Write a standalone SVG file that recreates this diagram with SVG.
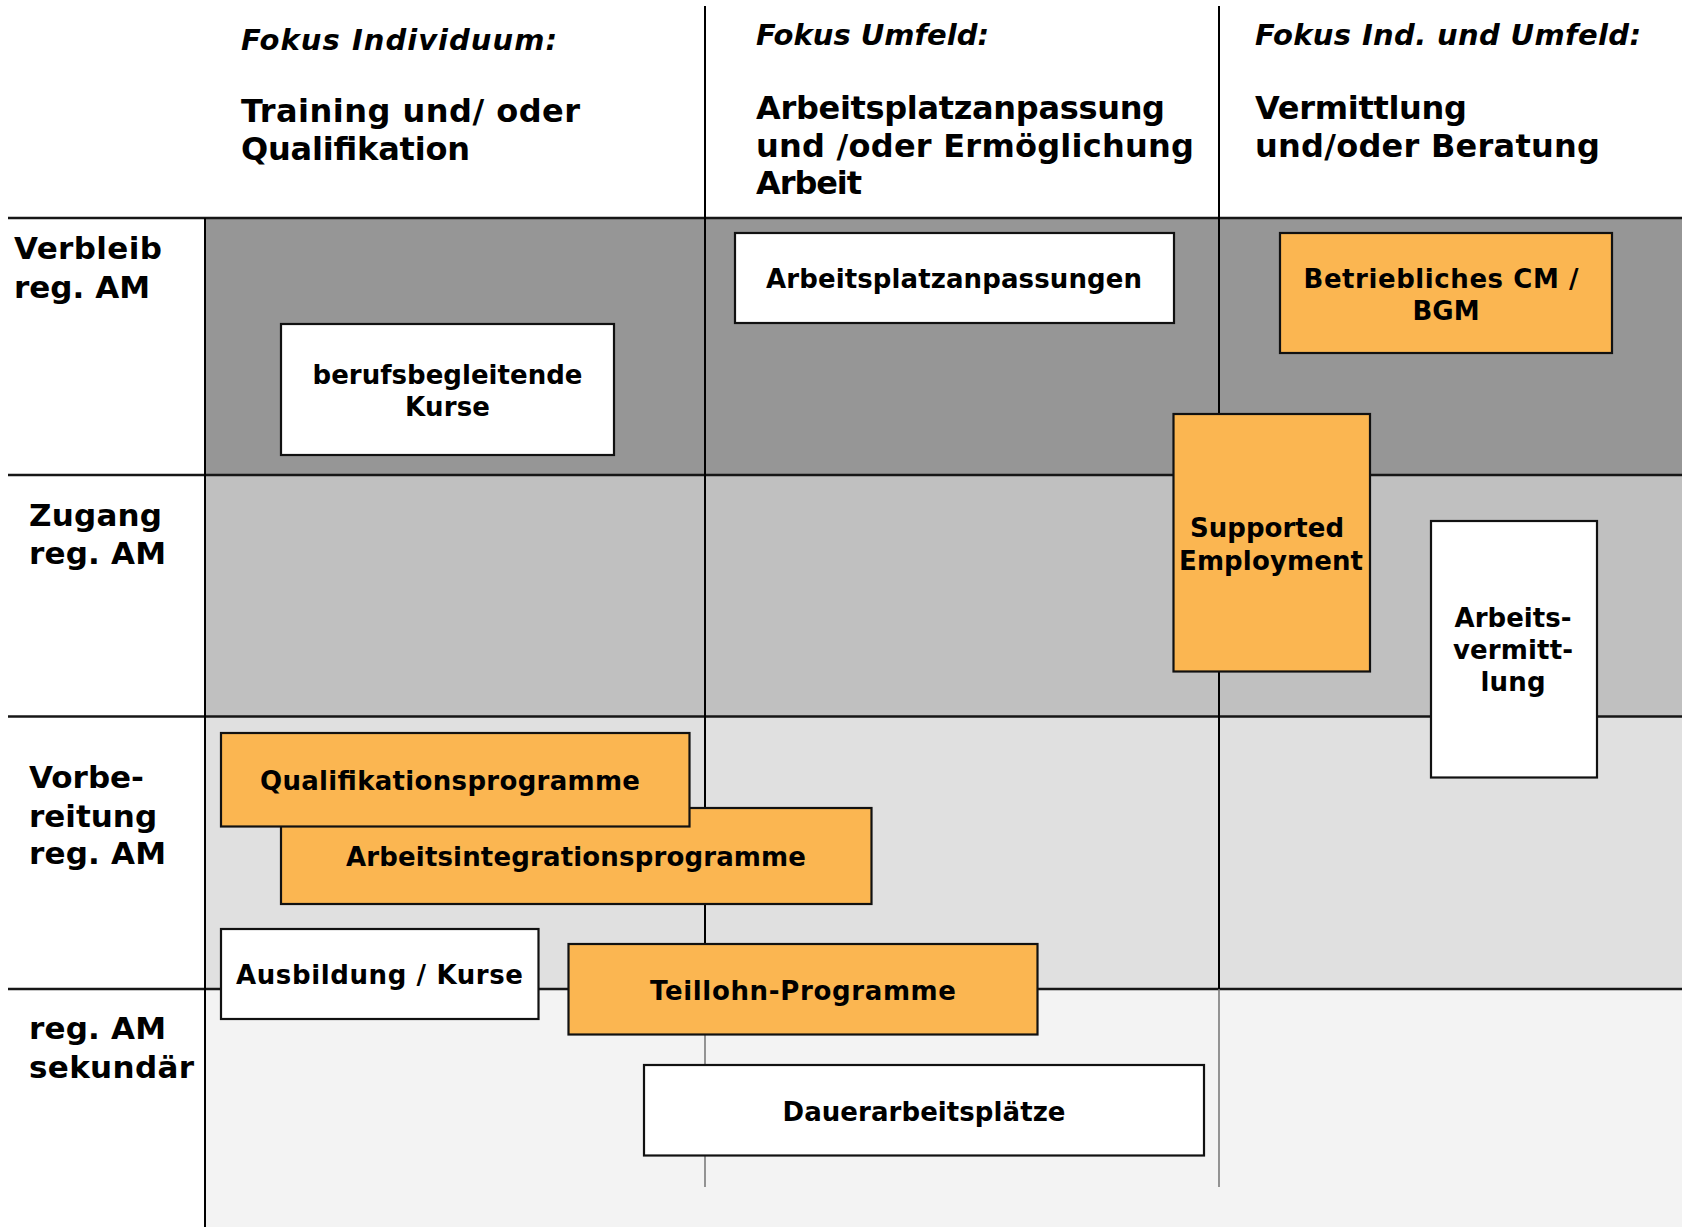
<svg xmlns="http://www.w3.org/2000/svg" width="1682" height="1227" viewBox="0 0 1682 1227">
<style>
text{font-family:"DejaVu Sans","Verdana",sans-serif;font-weight:bold;fill:#000}
.hd{font-size:32px}
.it{font-size:29px;font-style:italic}
.rl{font-size:31px}
.bx{font-size:26px;text-anchor:middle}
.box{stroke:#111;stroke-width:2.2}
.w{fill:#fff}
.o{fill:#FBB651}
.gl{stroke:#161616;stroke-width:2.5;fill:none}
.vl{stroke:#000;stroke-width:2;fill:none}
.vg{stroke:#7a7a7a;stroke-width:1.6;fill:none}
</style>
<rect x="0" y="0" width="1682" height="1227" fill="#fff"/>
<g id="bands">
<rect x="205" y="218" width="1477" height="257" fill="#969696"/>
<rect x="205" y="475" width="1477" height="241.5" fill="#c0c0c0"/>
<rect x="205" y="716.5" width="1477" height="272.5" fill="#e0e0e0"/>
<rect x="205" y="989" width="1477" height="238" fill="#f3f3f3"/>
</g>
<g id="connectors">
<line class="gl" x1="8" y1="218" x2="1682" y2="218"/>
<line class="gl" x1="8" y1="475" x2="1682" y2="475"/>
<line class="gl" x1="8" y1="716.5" x2="1682" y2="716.5"/>
<line class="gl" x1="8" y1="989" x2="1682" y2="989"/>
<line class="vl" x1="205" y1="218" x2="205" y2="1227"/>
<line class="vl" x1="705" y1="6" x2="705" y2="989"/>
<line class="vg" x1="705" y1="989" x2="705" y2="1187"/>
<line class="vl" x1="1219" y1="6" x2="1219" y2="989"/>
<line class="vg" x1="1219" y1="989" x2="1219" y2="1187"/>
</g>
<g id="header-col1">
<text class="it" x="241" y="50" textLength="316" lengthAdjust="spacing">Fokus  Individuum:</text>
<text class="hd" x="241" y="122" textLength="339" lengthAdjust="spacing">Training und/ oder</text>
<text class="hd" x="241" y="160" textLength="229" lengthAdjust="spacing">Qualifikation</text>
</g>
<g id="header-col2">
<text class="it" x="756" y="45" textLength="233" lengthAdjust="spacing">Fokus Umfeld:</text>
<text class="hd" x="756" y="119" textLength="409" lengthAdjust="spacing">Arbeitsplatzanpassung</text>
<text class="hd" x="756" y="157" textLength="438" lengthAdjust="spacing">und /oder Ermöglichung</text>
<text class="hd" x="756" y="194" textLength="106" lengthAdjust="spacing">Arbeit</text>
</g>
<g id="header-col3">
<text class="it" x="1255" y="45" textLength="386" lengthAdjust="spacing">Fokus Ind. und Umfeld:</text>
<text class="hd" x="1255" y="119" textLength="212" lengthAdjust="spacing">Vermittlung</text>
<text class="hd" x="1255" y="157" textLength="345" lengthAdjust="spacing">und/oder Beratung</text>
</g>
<g id="row-verbleib">
<text class="rl" x="14" y="259" textLength="148" lengthAdjust="spacing">Verbleib</text>
<text class="rl" x="14" y="298" textLength="136" lengthAdjust="spacing">reg. AM</text>
</g>
<g id="row-zugang">
<text class="rl" x="29" y="526" textLength="133" lengthAdjust="spacing">Zugang</text>
<text class="rl" x="29" y="564" textLength="137" lengthAdjust="spacing">reg. AM</text>
</g>
<g id="row-vorbereitung">
<text class="rl" x="29" y="788">Vorbe-</text>
<text class="rl" x="29" y="826.5">reitung</text>
<text class="rl" x="29" y="864" textLength="137" lengthAdjust="spacing">reg. AM</text>
</g>
<g id="row-sekundaer">
<text class="rl" x="29" y="1039" textLength="137" lengthAdjust="spacing">reg. AM</text>
<text class="rl" x="29" y="1078" textLength="165" lengthAdjust="spacing">sekundär</text>
</g>
<g id="node-berufsbegleitende">
<rect class="box w" x="281" y="324" width="333" height="131"/>
<text class="bx" x="447.5" y="384" textLength="270" lengthAdjust="spacing">berufsbegleitende</text>
<text class="bx" x="447.5" y="416" textLength="85" lengthAdjust="spacing">Kurse</text>
</g>
<g id="node-arbeitsplatzanpassungen">
<rect class="box w" x="735" y="233" width="439" height="90"/>
<text class="bx" x="954" y="288" textLength="376" lengthAdjust="spacing">Arbeitsplatzanpassungen</text>
</g>
<g id="node-betriebliches-cm">
<rect class="box o" x="1280" y="233" width="332" height="120"/>
<text class="bx" x="1441" y="287.5" textLength="275" lengthAdjust="spacing">Betriebliches CM /</text>
<text class="bx" x="1446" y="320">BGM</text>
</g>
<g id="node-supported-employment">
<rect class="box o" x="1173.5" y="414" width="196.5" height="257.5"/>
<text class="bx" x="1267" y="537" textLength="154" lengthAdjust="spacing">Supported</text>
<text class="bx" x="1271" y="570" textLength="184" lengthAdjust="spacing">Employment</text>
</g>
<g id="node-arbeitsvermittlung">
<rect class="box w" x="1431" y="521" width="166" height="256.5"/>
<text class="bx" x="1513" y="626.5" textLength="117" lengthAdjust="spacing">Arbeits-</text>
<text class="bx" x="1513" y="658.5" textLength="120" lengthAdjust="spacing">vermitt-</text>
<text class="bx" x="1513" y="691" textLength="65" lengthAdjust="spacing">lung</text>
</g>
<g id="node-arbeitsintegrationsprogramme">
<rect class="box o" x="281" y="808" width="590.5" height="96"/>
<text class="bx" x="576" y="865.5" textLength="460" lengthAdjust="spacing">Arbeitsintegrationsprogramme</text>
</g>
<g id="node-qualifikationsprogramme">
<rect class="box o" x="221" y="733" width="468.5" height="93.5"/>
<text class="bx" x="450" y="789.5" textLength="380" lengthAdjust="spacing">Qualifikationsprogramme</text>
</g>
<g id="node-ausbildung-kurse">
<rect class="box w" x="221" y="929" width="317.5" height="90"/>
<text class="bx" x="379.5" y="983.5" textLength="287" lengthAdjust="spacing">Ausbildung / Kurse</text>
</g>
<g id="node-teillohn-programme">
<rect class="box o" x="568.5" y="944" width="469" height="90.5"/>
<text class="bx" x="803" y="1000" textLength="306" lengthAdjust="spacing">Teillohn-Programme</text>
</g>
<g id="node-dauerarbeitsplaetze">
<rect class="box w" x="644" y="1065" width="560" height="90.5"/>
<text class="bx" x="924" y="1121" textLength="283" lengthAdjust="spacing">Dauerarbeitsplätze</text>
</g>
</svg>
